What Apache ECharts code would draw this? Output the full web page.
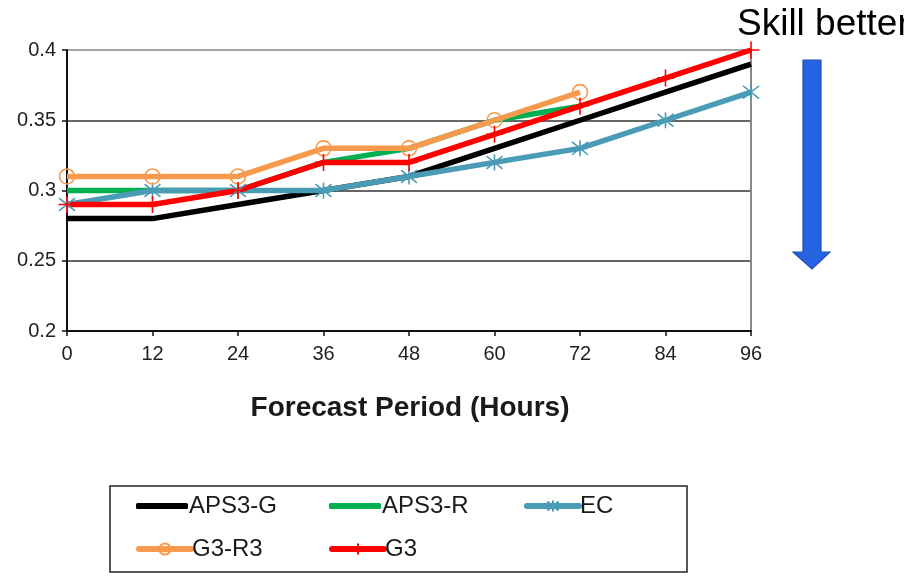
<!DOCTYPE html>
<html>
<head>
<meta charset="utf-8">
<script src="https://cdn.jsdelivr.net/npm/echarts@6/dist/echarts.min.js"></script>
<style>
  html, body { margin: 0; padding: 0; background: #fff; }
  #chart { width: 904px; height: 576px; }
</style>
</head>
<body>
<div id="chart"></div>
<script>
// Forecast lead times (hours) on the x axis
const hours = [0, 12, 24, 36, 48, 60, 72, 84, 96];
const yTicks = [0.2, 0.25, 0.3, 0.35, 0.4];

// Error score per model at each lead time
const aps3g = [0.28, 0.28, 0.29, 0.30, 0.31, 0.33, 0.35, 0.37, 0.39];
const aps3r = [0.30, 0.30, 0.30, 0.32, 0.33, 0.35, 0.36];
const ec    = [0.29, 0.30, 0.30, 0.30, 0.31, 0.32, 0.33, 0.35, 0.37];
const g3r3  = [0.31, 0.31, 0.31, 0.33, 0.33, 0.35, 0.37];
const g3    = [0.29, 0.29, 0.30, 0.32, 0.32, 0.34, 0.36, 0.38, 0.40];

const seriesNames = ['APS3-G', 'APS3-R', 'EC', 'G3-R3', 'G3'];
const seriesColors = ['#000000', '#00B050', '#4A9BB5', '#F79A4E', '#FF0000'];

const FONT = "'Liberation Sans', Arial, sans-serif";
const pair = vals => vals.map((v, i) => [hours[i], v]);

const ASTERISK = 'path://M0,-1L0,1M-0.8,-0.8L0.8,0.8M-0.8,0.8L0.8,-0.8';
const PLUS = 'path://M0,-1L0,1M-1,0L1,0';

function lineSeries(idx, vals, symbol, symbolSize) {
  const color = seriesColors[idx];
  return {
    name: seriesNames[idx],
    type: 'line',
    data: pair(vals),
    lineStyle: { color: color, width: 5.5 },
    symbol: symbol || 'none',
    symbolSize: symbolSize || 0,
    showSymbol: !!symbol,
    itemStyle: { color: 'rgba(0,0,0,0)', borderColor: color, borderWidth: 1.6 },
    emphasis: { disabled: true },
    animation: false
  };
}

// one legend per entry so the two rows line up like a table
function legendAt(idx, left, top, plain) {
  const color = seriesColors[idx];
  const lg = {
    data: [seriesNames[idx]],
    left: left,
    top: top,
    padding: 0,
    itemWidth: 52,
    itemHeight: 14,
    selectedMode: false,
    lineStyle: { width: 6, color: color, cap: 'round' },
    textStyle: { fontFamily: FONT, fontSize: 24, color: '#1a1a1a', padding: [0, 0, 0, -4] }
  };
  if (plain) {
    // plain line entries: a thick rounded bar with no marker
    lg.data = [{ name: seriesNames[idx], icon: 'roundRect' }];
    lg.itemHeight = 6;
    lg.itemStyle = { color: color, borderWidth: 0 };
  }
  return lg;
}

const chart = echarts.init(document.getElementById('chart'), null, { renderer: 'canvas' });

chart.setOption({
  backgroundColor: '#ffffff',
  animation: false,
  grid: { left: 67, right: 153, top: 50, bottom: 245, containLabel: false },
  xAxis: {
    type: 'value',
    min: hours[0],
    max: hours[hours.length - 1],
    interval: 12,
    axisLine: { lineStyle: { color: '#111', width: 2 } },
    axisTick: { show: true, length: 5, lineStyle: { color: '#111', width: 1.5 } },
    axisLabel: { fontFamily: FONT, fontSize: 20, color: '#222', margin: 13 },
    splitLine: { show: false }
  },
  yAxis: [{
    type: 'value',
    min: yTicks[0],
    max: yTicks[yTicks.length - 1],
    interval: 0.05,
    axisLine: { show: true, lineStyle: { color: '#111', width: 2 } },
    axisTick: { show: true, length: 5, lineStyle: { color: '#111', width: 1.5 } },
    axisLabel: {
      fontFamily: FONT, fontSize: 20, color: '#222', margin: 11,
      formatter: v => String(+v.toFixed(2))
    },
    splitLine: {
      show: true,
      lineStyle: { color: ['#333', '#333', '#333', '#333', '#8a8a8a'], width: 1.6 }
    }
  }, {
    type: 'value',
    position: 'right',
    min: yTicks[0],
    max: yTicks[yTicks.length - 1],
    interval: 0.05,
    axisLine: { show: true, lineStyle: { color: '#8a8a8a', width: 2 } },
    axisTick: { show: false },
    axisLabel: { show: false },
    splitLine: { show: false }
  }],
  legend: [
    legendAt(0, 136, 494, true),
    legendAt(1, 329, 494, true),
    legendAt(2, 524, 494),
    legendAt(3, 136, 537),
    legendAt(4, 329, 537)
  ],
  series: [
    lineSeries(0, aps3g),
    lineSeries(1, aps3r),
    lineSeries(2, ec, ASTERISK, 16),
    lineSeries(3, g3r3, 'circle', 15),
    lineSeries(4, g3, PLUS, 17)
  ],
  graphic: [
    {
      type: 'text',
      style: {
        text: 'Forecast Period (Hours)',
        fontFamily: FONT, fontSize: 28, fontWeight: 'bold', fill: '#1a1a1a',
        x: 410, y: 408, textAlign: 'center', textVerticalAlign: 'middle'
      }
    },
    {
      type: 'rect',
      shape: { x: 110, y: 486, width: 577, height: 86 },
      style: { fill: 'none', stroke: '#222', lineWidth: 1.5 },
      z: -1
    },
    {
      type: 'text',
      style: {
        text: 'Skill better',
        fontFamily: FONT, fontSize: 37, fill: '#000',
        x: 737, y: 25, textAlign: 'left', textVerticalAlign: 'middle'
      }
    },
    {
      type: 'polygon',
      shape: {
        points: [[803, 60], [821, 60], [821, 252], [830, 252], [812, 269], [793, 252], [803, 252]]
      },
      style: { fill: '#2563E0', stroke: '#1E4FB8', lineWidth: 1.2 }
    }
  ]
});
</script>
</body>
</html>
